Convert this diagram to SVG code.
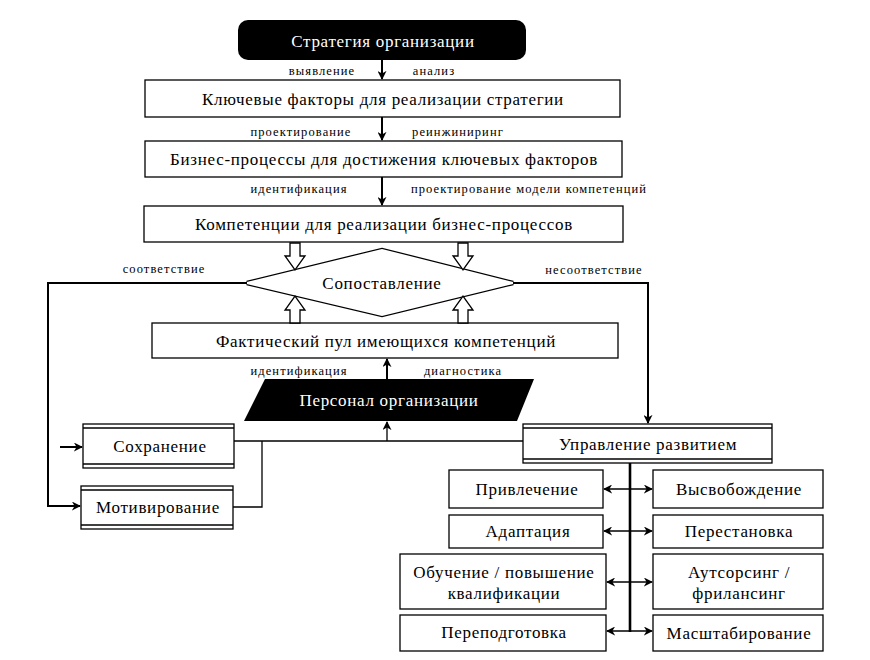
<svg xmlns="http://www.w3.org/2000/svg" width="870" height="660" viewBox="0 0 870 660">
<defs>
<style>
.box{fill:#fff;stroke:#000;stroke-width:1.3}
.t{font-family:"Liberation Serif","Times New Roman",serif;font-size:17px;letter-spacing:0.7px;fill:#000;text-anchor:middle;dominant-baseline:central}
.tw{fill:#fff}
.s{font-family:"Liberation Serif","Times New Roman",serif;font-size:12.5px;letter-spacing:1.1px;fill:#000;text-anchor:middle;dominant-baseline:central}
.ln{fill:none;stroke:#000;stroke-width:1.3}
.lnb{fill:none;stroke:#000;stroke-width:2}
.hol{fill:#fff;stroke:#000;stroke-width:1.3}
</style>
<marker id="ah" viewBox="0 0 10 10" refX="9" refY="5" markerWidth="9" markerHeight="9" markerUnits="userSpaceOnUse" orient="auto-start-reverse">
<path d="M0,0 L10,5 L0,10 L3,5 z" fill="#000"/>
</marker>
</defs>
<g id="strategy">
<rect x="238" y="20" width="288" height="40" rx="10" fill="#000"/>
<text class="t tw" x="383" y="41">Стратегия организации</text>
</g>
<g id="factors">
<rect class="box" x="145" y="80" width="475" height="37"/>
<text class="t" x="383" y="99">Ключевые факторы для реализации стратегии</text>
</g>
<g id="processes">
<rect class="box" x="145" y="141" width="477" height="36"/>
<text class="t" x="384" y="159">Бизнес-процессы для достижения ключевых факторов</text>
</g>
<g id="competences">
<rect class="box" x="144" y="206" width="479" height="36"/>
<text class="t" x="384" y="224">Компетенции для реализации бизнес-процессов</text>
</g>
<g id="compare">
<polygon points="247,283 382,250 513,283 382,315" fill="#fff" stroke="#000" stroke-width="4.5"/>
<polygon points="247,283 382,250 513,283 382,315" fill="#fff" stroke="#fff" stroke-width="2"/>
<text class="t" x="382" y="283">Сопоставление</text>
</g>
<g id="actual">
<rect class="box" x="152" y="323" width="466" height="35"/>
<text class="t" x="386" y="341">Фактический пул имеющихся компетенций</text>
</g>
<g id="personnel">
<polygon points="265,379 534,379 517,421 244,421" fill="#000"/>
<text class="t tw" x="389" y="400">Персонал организации</text>
</g>
<g id="retention">
<rect class="box" x="83" y="424" width="151" height="44"/>
<line class="ln" x1="83" y1="428" x2="234" y2="428"/>
<line class="ln" x1="83" y1="464" x2="234" y2="464"/>
<text class="t" x="160" y="446">Сохранение</text>
</g>
<g id="motivation">
<rect class="box" x="81" y="486" width="152" height="43"/>
<line class="ln" x1="81" y1="490" x2="233" y2="490"/>
<line class="ln" x1="81" y1="525" x2="233" y2="525"/>
<text class="t" x="158" y="507">Мотивирование</text>
</g>
<g id="development">
<rect class="box" x="523" y="424" width="249" height="39"/>
<line class="ln" x1="523" y1="428" x2="772" y2="428"/>
<line class="ln" x1="523" y1="459" x2="772" y2="459"/>
<text class="t" x="648" y="444">Управление развитием</text>
</g>
<g id="attraction">
<rect class="box" x="449" y="470" width="154" height="38"/>
<text class="t" x="527" y="489">Привлечение</text>
</g>
<g id="release">
<rect class="box" x="653" y="470" width="170" height="38"/>
<text class="t" x="739" y="489">Высвобождение</text>
</g>
<g id="adaptation">
<rect class="box" x="449" y="515" width="154" height="33"/>
<text class="t" x="528" y="531">Адаптация</text>
</g>
<g id="rearrangement">
<rect class="box" x="653" y="515" width="170" height="33"/>
<text class="t" x="739" y="531">Перестановка</text>
</g>
<g id="training">
<rect class="box" x="400" y="554" width="206" height="55"/>
<text class="t" x="504" y="572">Обучение / повышение</text>
<text class="t" x="504" y="593">квалификации</text>
</g>
<g id="outsourcing">
<rect class="box" x="653" y="554" width="170" height="55"/>
<text class="t" x="739" y="572">Аутсорсинг /</text>
<text class="t" x="739" y="593">фрилансинг</text>
</g>
<g id="retraining">
<rect class="box" x="400" y="615" width="206" height="36"/>
<text class="t" x="504" y="632">Переподготовка</text>
</g>
<g id="scaling">
<rect class="box" x="653" y="615" width="170" height="36"/>
<text class="t" x="739" y="633">Масштабирование</text>
</g>
<g id="connectors">
<line class="lnb" x1="382" y1="60" x2="382" y2="79" marker-end="url(#ah)"/>
<line class="lnb" x1="382" y1="117" x2="382" y2="140" marker-end="url(#ah)"/>
<line class="lnb" x1="382" y1="177" x2="382" y2="205" marker-end="url(#ah)"/>
<path class="hol" d="M290,243 H300 V256 H305 L295,270 L285,256 H290 Z"/>
<path class="hol" d="M458,243 H468 V256 H473 L463,270 L453,256 H458 Z"/>
<path class="hol" d="M290,323 H300 V310 H305 L295,296 L285,310 H290 Z"/>
<path class="hol" d="M458,323 H468 V310 H473 L463,296 L453,310 H458 Z"/>
<path class="lnb" d="M247,283 H48 V506 H80" marker-end="url(#ah)"/>
<path class="lnb" d="M513,283 H648 V423" marker-end="url(#ah)"/>
<line class="lnb" x1="60" y1="447" x2="82" y2="447" marker-end="url(#ah)"/>
<line class="lnb" x1="387" y1="379" x2="387" y2="359" marker-end="url(#ah)"/>
<line class="ln" x1="234" y1="441" x2="523" y2="441"/>
<path class="ln" d="M262,441 V507 H233"/>
<line class="ln" x1="387" y1="441" x2="387" y2="422" marker-end="url(#ah)"/>
<line x1="630" y1="463" x2="630" y2="632" stroke="#000" stroke-width="2.6"/>
<line class="ln" x1="604" y1="489" x2="652" y2="489" marker-start="url(#ah)" marker-end="url(#ah)"/>
<line class="ln" x1="604" y1="531" x2="652" y2="531" marker-start="url(#ah)" marker-end="url(#ah)"/>
<line class="ln" x1="607" y1="582" x2="652" y2="582" marker-start="url(#ah)" marker-end="url(#ah)"/>
<line class="ln" x1="607" y1="631" x2="652" y2="631" marker-start="url(#ah)" marker-end="url(#ah)"/>
</g>
<g id="labels">
<text class="s" x="322" y="71">выявление</text>
<text class="s" x="434" y="71">анализ</text>
<text class="s" x="301" y="132">проектирование</text>
<text class="s" x="458" y="132">реинжиниринг</text>
<text class="s" x="299" y="189">идентификация</text>
<text class="s" x="529" y="189">проектирование модели компетенций</text>
<text class="s" x="164" y="269">соответствие</text>
<text class="s" x="594" y="270">несоответствие</text>
<text class="s" x="299" y="371">идентификация</text>
<text class="s" x="463" y="371">диагностика</text>
</g>
</svg>
